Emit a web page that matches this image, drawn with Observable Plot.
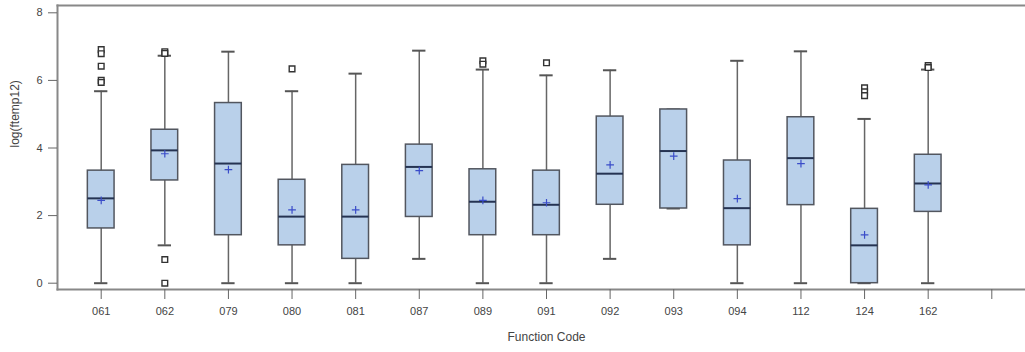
<!DOCTYPE html>
<html>
<head>
<meta charset="utf-8">
<script src="https://cdn.jsdelivr.net/npm/d3@7"></script>
<script src="https://cdn.jsdelivr.net/npm/@observablehq/plot@0.6"></script>
<style>
  html, body { margin: 0; padding: 0; background: #fff; overflow: hidden; }
</style>
</head>
<body>
<div id="chart"></div>
<script>
const codes = ["061","062","079","080","081","087","089","091","092","093","094","112","124","162"];
const lowWhisker  = [0.00, 1.12, 0.00, 0.00, 0.00, 0.72, 0.00, 0.00, 0.72, 2.21, 0.00, 0.00, 0.00, 0.00];
const q1          = [1.62, 3.04, 1.42, 1.12, 0.72, 1.96, 1.42, 1.42, 2.32, 2.21, 1.12, 2.31, 0.00, 2.11];
const median      = [2.51, 3.93, 3.54, 1.97, 1.97, 3.44, 2.41, 2.32, 3.24, 3.91, 2.22, 3.70, 1.12, 2.95];
const q3          = [3.33, 4.54, 5.33, 3.06, 3.50, 4.10, 3.37, 3.33, 4.93, 5.14, 3.63, 4.91, 2.20, 3.80];
const highWhisker = [5.68, 6.73, 6.85, 5.68, 6.20, 6.88, 6.32, 6.15, 6.30, 5.14, 6.58, 6.86, 4.86, 6.32];
const mean        = [2.45, 3.83, 3.36, 2.17, 2.17, 3.33, 2.45, 2.38, 3.50, 3.76, 2.50, 3.54, 1.43, 2.91];

const outlierCodes  = ["061","061","061","061","061","062","062","062","062","080","089","089","091","124","124","124","162","162"];
const outlierValues = [6.91, 6.79, 6.42, 6.00, 5.94, 6.85, 6.80, 0.70, 0.00, 6.34, 6.58, 6.48, 6.52, 5.78, 5.66, 5.55, 6.44, 6.38];

const yTicks = [0, 2, 4, 6, 8];
const xDomain = [...codes, ""];

const rows = codes.map((c, i) => ({
  code: c, low: lowWhisker[i], q1: q1[i], median: median[i], q3: q3[i], high: highWhisker[i], mean: mean[i]
}));
const outliers = outlierCodes.map((c, i) => ({code: c, value: outlierValues[i]}));

const chart = Plot.plot({
  width: 1025,
  height: 352,
  marginLeft: 57,
  marginRight: 0,
  marginTop: 5,
  marginBottom: 63,
  style: {fontFamily: "'Liberation Sans', Arial, sans-serif", fontSize: "11px", color: "#444", background: "#fff"},
  x: {type: "band", domain: xDomain, paddingInner: 0.58, paddingOuter: 0.477, round: false, range: [57, 1035]},
  y: {domain: [0, 8], range: [282.7, 12.3]},
  marks: [
    Plot.frame({anchor: "top", stroke: "#888", strokeWidth: 2}),
    Plot.frame({anchor: "left", stroke: "#888", strokeWidth: 2}),
    Plot.frame({anchor: "bottom", stroke: "#888", strokeWidth: 2}),
    Plot.axisY({ticks: yTicks, tickSize: 9, tickPadding: 6, stroke: "#666", fill: "#444", fontSize: 11, label: null}),
    Plot.axisX({tickSize: 10, tickPadding: 8, stroke: "#666", fill: "#444", fontSize: 11, label: null}),
    Plot.ruleX(rows, {x: "code", y1: "low", y2: "high", stroke: "#666", strokeWidth: 1.5}),
    Plot.tickY(rows, {x: "code", y: "low", stroke: "#555", strokeWidth: 2, insetLeft: 6.7, insetRight: 6.7}),
    Plot.tickY(rows, {x: "code", y: "high", stroke: "#555", strokeWidth: 2, insetLeft: 6.7, insetRight: 6.7}),
    Plot.barY(rows, {x: "code", y1: "q1", y2: "q3", fill: "#b9d0ea", stroke: "#52565f", strokeWidth: 1.5}),
    Plot.tickY(rows, {x: "code", y: "median", stroke: "#253352", strokeWidth: 2}),
    Plot.dot(rows, {x: "code", y: "mean", symbol: "plus", r: 2.6, stroke: "#3a4cc9", strokeWidth: 1.2}),
    Plot.dot(outliers, {x: "code", y: "value", symbol: "square", r: 3.2, stroke: "#333", fill: "white", strokeWidth: 1.4}),
    Plot.text(["log(ftemp12)"], {frameAnchor: "left", dx: -42, rotate: -90, fontSize: 12, fill: "#444"}),
    Plot.text(["Function Code"], {frameAnchor: "bottom", dx: 5, dy: 51, fontSize: 12, fill: "#444"})
  ]
});
document.getElementById("chart").appendChild(chart);
</script>
</body>
</html>
